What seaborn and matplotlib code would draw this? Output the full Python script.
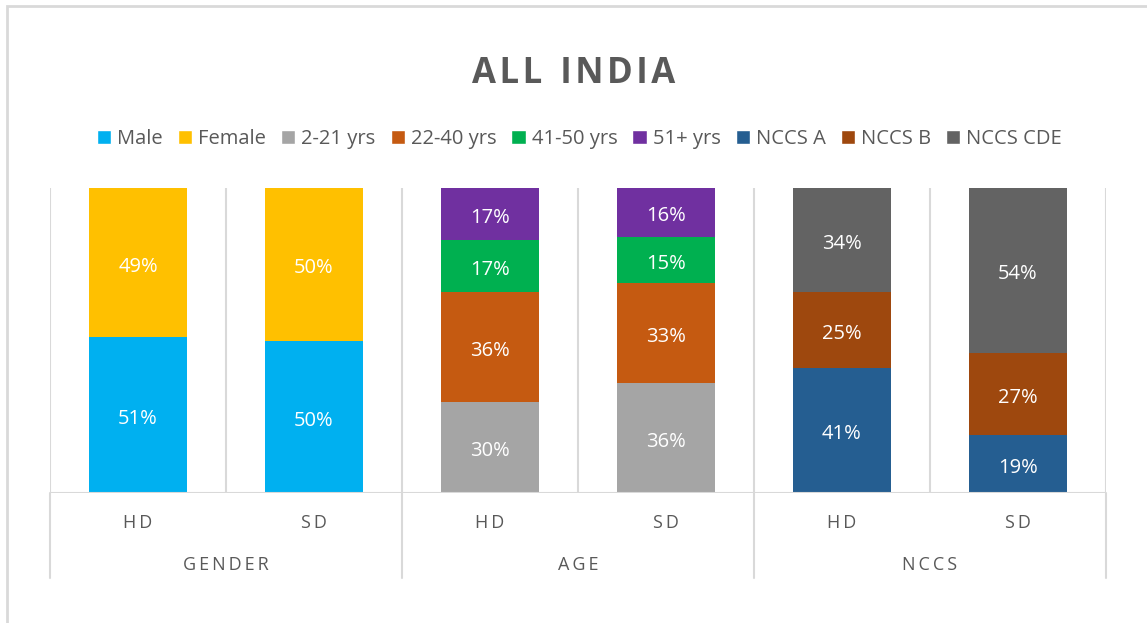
import pandas as pd
import numpy as np
import matplotlib
matplotlib.use("Agg")
import matplotlib.pyplot as plt
import matplotlib.transforms as mtransforms
from matplotlib.patches import Patch, Rectangle
import seaborn as sns

# bars (slot order) and the group each belongs to
bars = ["GENDER-HD", "GENDER-SD", "AGE-HD", "AGE-SD", "NCCS-HD", "NCCS-SD"]
bar_labels = ["HD", "SD", "HD", "SD", "HD", "SD"]
groups = ["GENDER", "AGE", "NCCS"]

# series, bottom to top within each group
gender_series = ["Male", "Female"]
gender_hd = [51, 49]
gender_sd = [50, 50]

age_series = ["2-21 yrs", "22-40 yrs", "41-50 yrs", "51+ yrs"]
age_hd = [30, 36, 17, 17]
age_sd = [36, 33, 15, 16]

nccs_series = ["NCCS A", "NCCS B", "NCCS CDE"]
nccs_hd = [41, 25, 34]
nccs_sd = [19, 27, 54]

colors = {
    "Male": "#00B0F0", "Female": "#FFC000",
    "2-21 yrs": "#A5A5A5", "22-40 yrs": "#C55A11", "41-50 yrs": "#00B050", "51+ yrs": "#7030A0",
    "NCCS A": "#255E91", "NCCS B": "#9E480E", "NCCS CDE": "#636363",
}

sns.set_theme(style="white")
plt.rcParams['font.family'] = ['Open Sans', 'DejaVu Sans']


def spaced(s, sep="\u2009"):
    # Excel-style letter spacing
    return sep.join(s)


# long table with cumulative tops
rows = []
for bar, series, vals in [
    ("GENDER-HD", gender_series, gender_hd), ("GENDER-SD", gender_series, gender_sd),
    ("AGE-HD", age_series, age_hd), ("AGE-SD", age_series, age_sd),
    ("NCCS-HD", nccs_series, nccs_hd), ("NCCS-SD", nccs_series, nccs_sd),
]:
    total = sum(vals)
    cum = 0
    for s, v in zip(series, vals):
        pct = v / total * 100
        rows.append({"bar": bar, "series": s, "value": v, "bottom": cum, "top": cum + pct})
        cum += pct
df = pd.DataFrame(rows)

all_series = gender_series + age_series + nccs_series

W, H = 1147, 623
fig = plt.figure(figsize=(W / 100, H / 100), dpi=100)
ax = fig.add_axes([50 / W, 1 - 493 / H, (1106 - 50) / W, (493 - 188) / H])

# draw top layers first so lower segments cover them
for s in reversed(all_series):
    sub = df[df["series"] == s]
    sns.barplot(data=sub, x="bar", y="top", order=bars, color=colors[s],
                width=0.56, saturation=1, ax=ax, errorbar=None, linewidth=0)

# nudge labels a few pixels down, like the original
down = mtransforms.ScaledTranslation(0, -4 / 100, fig.dpi_scale_trans)
for _, r in df.iterrows():
    ax.text(bars.index(r["bar"]), (r["bottom"] + r["top"]) / 2, f"{r['value']}%",
            ha="center", va="center", color="white", fontsize=14.5,
            transform=ax.transData + down)

ax.set_xlim(-0.5, 5.5)
ax.set_ylim(0, 100)
ax.set_yticks([])
ax.set_xticks([])
ax.set_xlabel("")
ax.set_ylabel("")
for sp in ax.spines.values():
    sp.set_visible(False)

grid_c = "#D9D9D9"
for x in np.arange(-0.5, 6, 1):
    ax.axvline(x, color=grid_c, lw=1.5, zorder=0)
ax.axhline(0, color=grid_c, lw=1.5, zorder=3)

tr = ax.get_xaxis_transform()
ext = -(578 - 493) / (493 - 188)
for x in [-0.5, 1.5, 3.5, 5.5]:
    ax.plot([x, x], [0, ext], color=grid_c, lw=1.5, transform=tr, clip_on=False)

for i, lab in enumerate(bar_labels):
    ax.text(i, -30 / 305, spaced(lab), transform=tr, ha="center", va="center",
            color="#595959", fontsize=13)
for i, g in enumerate(groups):
    ax.text(2 * i + 0.5, -72 / 305, spaced(g), transform=tr, ha="center", va="center",
            color="#595959", fontsize=13)

fig.text(0.5, 1 - 74 / H, spaced("ALL", "\u200a") + "  " + spaced("INDIA", "\u200a"),
         ha="center", va="center", fontsize=25, fontweight="bold", color="#595959")

handles = [Patch(facecolor=colors[s], label=s) for s in all_series]
fig.legend(handles=handles, loc="center", bbox_to_anchor=(0.5 + 6 / W, 1 - 139 / H), ncol=9,
           frameon=False, fontsize=14.5, handlelength=0.7, handleheight=0.7,
           handletextpad=0.3, columnspacing=0.75, labelcolor="#595959")

fig.patches.append(Rectangle((7 / W, -0.1), 1.2, 1 - 6 / H + 0.1, transform=fig.transFigure,
                             fill=False, edgecolor=grid_c, lw=2))

fig.savefig("out.png", dpi=100)
